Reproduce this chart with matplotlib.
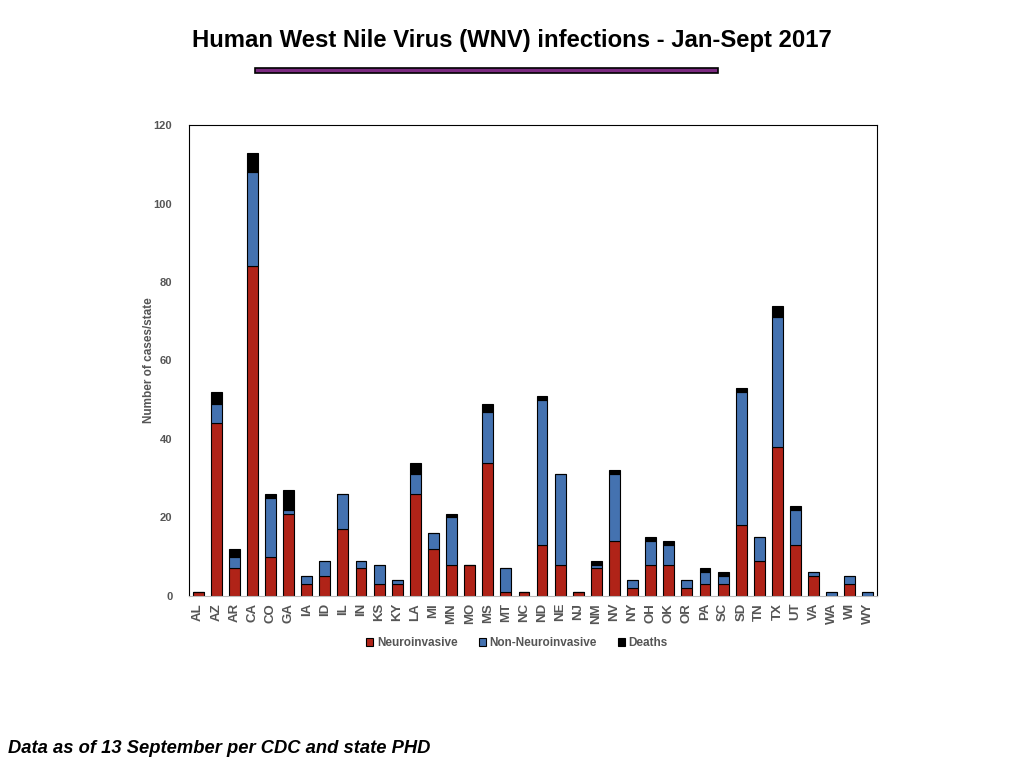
import matplotlib.pyplot as plt
from matplotlib.patches import Rectangle

plt.rcParams['font.family'] = ['Liberation Sans', 'DejaVu Sans']

# Cases per state, Jan-Sept 2017
states = ['AL', 'AZ', 'AR', 'CA', 'CO', 'GA', 'IA', 'ID', 'IL', 'IN', 'KS',
          'KY', 'LA', 'MI', 'MN', 'MO', 'MS', 'MT', 'NC', 'ND', 'NE', 'NJ',
          'NM', 'NV', 'NY', 'OH', 'OK', 'OR', 'PA', 'SC', 'SD', 'TN', 'TX',
          'UT', 'VA', 'WA', 'WI', 'WY']
neuro = [1, 44, 7, 84, 10, 21, 3, 5, 17, 7, 3,
         3, 26, 12, 8, 8, 34, 1, 1, 13, 8, 1,
         7, 14, 2, 8, 8, 2, 3, 3, 18, 9, 38,
         13, 5, 0, 3, 0]
non_neuro = [0, 5, 3, 24, 15, 1, 2, 4, 9, 2, 5,
             1, 5, 4, 12, 0, 13, 6, 0, 37, 23, 0,
             1, 17, 2, 6, 5, 2, 3, 2, 34, 6, 33,
             9, 1, 1, 2, 1]
deaths = [0, 3, 2, 5, 1, 5, 0, 0, 0, 0, 0,
          0, 3, 0, 1, 0, 2, 0, 0, 1, 0, 0,
          1, 1, 0, 1, 1, 0, 1, 1, 1, 0, 3,
          1, 0, 0, 0, 0]

red = '#B02318'
blue = '#4472B0'
grey = '#555555'

fig = plt.figure(figsize=(10.24, 7.68), dpi=100)
ax = fig.add_axes([0.1846, 0.224, 0.6718, 0.6132])

x = range(len(states))
base2 = [a + b for a, b in zip(neuro, non_neuro)]
ax.bar(x, neuro, width=0.6, color=red, edgecolor='black', linewidth=0.8,
       label='Neuroinvasive')
ax.bar(x, non_neuro, width=0.6, bottom=neuro, color=blue, edgecolor='black',
       linewidth=0.8, label='Non-Neuroinvasive')
ax.bar(x, deaths, width=0.6, bottom=base2, color='black', edgecolor='black',
       linewidth=0.8, label='Deaths')

ax.set_xlim(-0.5, len(states) - 0.5)
ax.set_ylim(0, 120)
ax.set_yticks(range(0, 121, 20))
ax.set_xticks(list(x))
ax.set_xticklabels(states, rotation=90, fontsize=9.5, fontweight='bold',
                   color=grey)
ax.tick_params(axis='y', length=0, pad=12, labelsize=8, labelcolor=grey)
ax.tick_params(axis='x', length=0, pad=5)
for lab in ax.get_yticklabels():
    lab.set_fontweight('bold')
ax.spines['bottom'].set_color('#BBBBBB')
ax.set_ylabel('Number of cases/state', fontsize=8.5, fontweight='bold',
              color=grey, labelpad=-1)

leg = ax.legend(loc='upper center', bbox_to_anchor=(0.477, -0.065), ncol=3,
                frameon=False, fontsize=8.5, handlelength=0.6,
                handleheight=0.6, handletextpad=0.3, columnspacing=1.8)
for t in leg.get_texts():
    t.set_color(grey)
    t.set_fontweight('bold')

fig.text(0.5, 0.947, 'Human West Nile Virus (WNV) infections - Jan-Sept 2017',
         ha='center', va='center', fontsize=17.2, fontweight='bold')
fig.patches.append(Rectangle((0.249, 0.905), 0.452, 0.007,
                             transform=fig.transFigure, facecolor='#7B2A80',
                             edgecolor='black', linewidth=1.2))
fig.text(0.008, 0.025, 'Data as of 13 September per CDC and state PHD',
         ha='left', va='center', fontsize=13.2, fontweight='bold',
         style='italic')

fig.savefig('out.png', dpi=100)
